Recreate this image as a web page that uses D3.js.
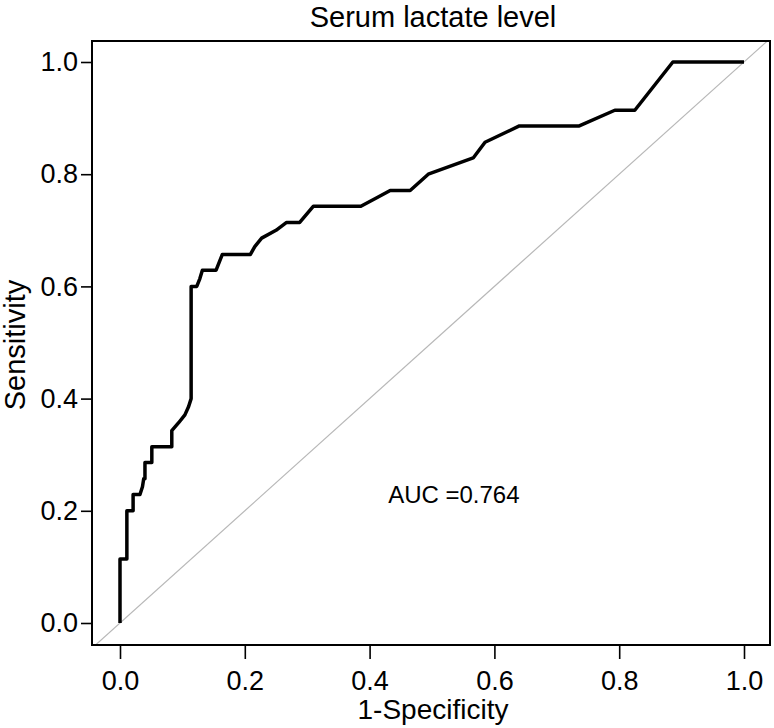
<!DOCTYPE html>
<html>
<head>
<meta charset="utf-8">
<script src="https://cdn.jsdelivr.net/npm/d3@7"></script>
<style>
  body { margin: 0; background: #fff; }
  text { font-family: "Liberation Sans", Arial, sans-serif; fill: #000; }
</style>
</head>
<body>
<div id="chart"></div>
<script>
// ROC curve vertices
const fpr = [0, 0, 0.011, 0.011, 0.021, 0.021, 0.032, 0.036, 0.038, 0.040, 0.040,
  0.051, 0.051, 0.083, 0.083, 0.094, 0.104, 0.110, 0.114, 0.114, 0.123, 0.128,
  0.132, 0.154, 0.164, 0.209, 0.216, 0.227, 0.250, 0.267, 0.288, 0.310, 0.386,
  0.410, 0.433, 0.465, 0.494, 0.566, 0.585, 0.640, 0.736, 0.793, 0.825, 0.886, 1.000];
const tpr = [0, 0.114, 0.114, 0.200, 0.200, 0.229, 0.229, 0.243, 0.257, 0.257, 0.286,
  0.286, 0.314, 0.314, 0.343, 0.357, 0.371, 0.386, 0.400, 0.600, 0.600, 0.614,
  0.629, 0.629, 0.657, 0.657, 0.671, 0.686, 0.700, 0.714, 0.714, 0.743, 0.743,
  0.757, 0.771, 0.771, 0.800, 0.829, 0.857, 0.886, 0.886, 0.914, 0.914, 1.000, 1.000];
const tickValues = [0.0, 0.2, 0.4, 0.6, 0.8, 1.0];
const titleText = "Serum lactate level";
const xLabel = "1-Specificity";
const yLabel = "Sensitivity";
const aucText = "AUC =0.764";
const aucPos = [0.535, 0.214];

const width = 774, height = 728;
const box = { left: 92, right: 770, top: 41, bottom: 645 };

const svg = d3.select("#chart").append("svg")
  .attr("width", width)
  .attr("height", height);

// 0 -> 120px, 1 -> 744px ; 0 -> 623px, 1 -> 62px
const x = d3.scaleLinear().domain([0, 1]).range([120, 744]);
const y = d3.scaleLinear().domain([0, 1]).range([623, 62]);

svg.append("clipPath").attr("id", "plot-clip")
  .append("rect")
  .attr("x", box.left).attr("y", box.top)
  .attr("width", box.right - box.left).attr("height", box.bottom - box.top);

// reference diagonal
const dmin = x.invert(box.left), dmax = x.invert(box.right);
svg.append("line")
  .attr("clip-path", "url(#plot-clip)")
  .attr("x1", x(dmin)).attr("y1", y(dmin))
  .attr("x2", x(dmax)).attr("y2", y(dmax))
  .attr("stroke", "#b8b8b8")
  .attr("stroke-width", 1.2);

// ROC curve
const pts = fpr.map((f, i) => [f, tpr[i]]);
svg.append("path")
  .datum(pts)
  .attr("fill", "none")
  .attr("stroke", "#000")
  .attr("stroke-width", 3.5)
  .attr("stroke-linejoin", "round")
  .attr("d", d3.line().x(d => x(d[0])).y(d => y(d[1])));

// box
svg.append("rect")
  .attr("x", box.left).attr("y", box.top)
  .attr("width", box.right - box.left).attr("height", box.bottom - box.top)
  .attr("fill", "none")
  .attr("stroke", "#000")
  .attr("stroke-width", 2);

// axes
const xAxis = svg.append("g")
  .attr("transform", `translate(0,${box.bottom})`)
  .call(d3.axisBottom(x).tickValues(tickValues).tickFormat(d3.format(".1f"))
    .tickSize(14).tickPadding(11));
const yAxis = svg.append("g")
  .attr("transform", `translate(${box.left},0)`)
  .call(d3.axisLeft(y).tickValues(tickValues).tickFormat(d3.format(".1f"))
    .tickSize(11).tickPadding(3));
[xAxis, yAxis].forEach(g => {
  g.select(".domain").remove();
  g.selectAll(".tick line").attr("stroke", "#000").attr("stroke-width", 1.6);
  g.selectAll(".tick text")
    .attr("font-family", "'Liberation Sans', Arial, sans-serif")
    .attr("font-size", 27)
    .attr("fill", "#000");
});
xAxis.selectAll(".tick text").attr("dy", null).attr("y", 45);

// title and labels
svg.append("text")
  .attr("x", 433).attr("y", 27)
  .attr("text-anchor", "middle")
  .attr("font-size", 29)
  .text(titleText);

svg.append("text")
  .attr("x", 433).attr("y", 719)
  .attr("text-anchor", "middle")
  .attr("font-size", 28)
  .text(xLabel);

svg.append("text")
  .attr("transform", `translate(25,${(box.top + box.bottom) / 2 + 2}) rotate(-90)`)
  .attr("text-anchor", "middle")
  .attr("font-size", 29)
  .text(yLabel);

svg.append("text")
  .attr("x", x(aucPos[0])).attr("y", y(aucPos[1]))
  .attr("text-anchor", "middle")
  .attr("font-size", 24)
  .text(aucText);
</script>
</body>
</html>
